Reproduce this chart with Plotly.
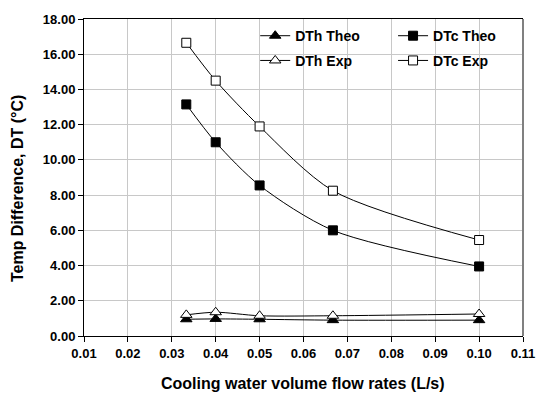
import plotly.graph_objects as go

flow = [0.0333, 0.04, 0.05, 0.0667, 0.10]
dth_theo = [0.95, 0.97, 0.95, 0.90, 0.90]
dtc_theo = [13.15, 11.0, 8.55, 6.0, 3.95]
dth_exp = [1.20, 1.35, 1.15, 1.15, 1.25]
dtc_exp = [16.65, 14.5, 11.9, 8.25, 5.45]

x_ticks = [0.01, 0.02, 0.03, 0.04, 0.05, 0.06, 0.07, 0.08, 0.09, 0.10, 0.11]
y_ticks = [0, 2, 4, 6, 8, 10, 12, 14, 16, 18]

FONT = "Liberation Sans, Arial, sans-serif"

fig = go.Figure()

def add(name, y, symbol, fill, size, legend):
    fig.add_trace(go.Scatter(
        x=flow, y=y, name=f"<b>{name}</b>", mode="lines+markers",
        line=dict(color="black", width=1, shape="spline", smoothing=0.8),
        marker=dict(symbol=symbol, size=size, color=fill,
                    line=dict(color="black", width=1)),
        legend=legend,
    ))

add("DTh Theo", dth_theo, "triangle-up", "black", 10, "legend")
add("DTc Theo", dtc_theo, "square", "black", 9, "legend2")
add("DTh Exp", dth_exp, "triangle-up", "white", 10, "legend3")
add("DTc Exp", dtc_exp, "square", "white", 9, "legend4")

lg = dict(bgcolor="rgba(0,0,0,0)", borderwidth=0,
          font=dict(family=FONT, size=14, color="black"),
          xanchor="left", yanchor="middle", itemwidth=30)

col1, col2 = 0.39, 0.704
row1, row2 = 0.946, 0.868

fig.update_layout(
    width=547, height=397,
    margin=dict(l=84, r=14, t=14, b=61),
    paper_bgcolor="white", plot_bgcolor="white",
    font=dict(family=FONT, size=13, color="black"),
    showlegend=True,
    legend=dict(**lg, x=col1, y=row1),
    legend2=dict(**lg, x=col2, y=row1),
    legend3=dict(**lg, x=col1, y=row2),
    legend4=dict(**lg, x=col2, y=row2),
    xaxis=dict(
        range=[0.01, 0.11], tickvals=x_ticks,
        ticktext=[f"<b>{v:.2f}</b>" for v in x_ticks],
        showgrid=True, gridcolor="#c8c8c8", gridwidth=1,
        showline=True, linecolor="black", linewidth=1, mirror=True,
        ticks="outside", ticklen=5, tickcolor="black",
        tickfont=dict(family=FONT, size=13, color="black"),
        zeroline=False,
    ),
    yaxis=dict(
        range=[0, 18], tickvals=y_ticks,
        ticktext=[f"<b>{v:.2f}</b>" for v in y_ticks],
        showgrid=True, gridcolor="#c8c8c8", gridwidth=1,
        showline=True, linecolor="black", linewidth=1,
        ticks="outside", ticklen=5, tickcolor="black",
        tickfont=dict(family=FONT, size=13, color="black"),
        zeroline=False,
    ),
)

fig.add_annotation(text="<b>Cooling water volume flow rates (L/s)</b>",
                   xref="paper", yref="paper", x=0.498, y=-0.149,
                   xanchor="center", yanchor="middle", showarrow=False,
                   font=dict(family=FONT, size=16, color="black"))
fig.add_annotation(text="<b>Temp Difference, DT (°C)</b>",
                   xref="paper", yref="paper", x=-0.15, y=0.464,
                   xanchor="center", yanchor="middle", showarrow=False,
                   textangle=-90,
                   font=dict(family=FONT, size=16, color="black"))

# white legend box hiding gridlines
fig.add_shape(type="rect", xref="paper", yref="paper", layer="below",
              x0=0.381, x1=0.978, y0=0.820, y1=0.966,
              fillcolor="white", line=dict(width=0))
fig.add_shape(type="line", xref="paper", yref="paper", x0=1, x1=1, y0=0, y1=1,
              line=dict(color="#808080", width=2))

fig.write_html("out.html")
